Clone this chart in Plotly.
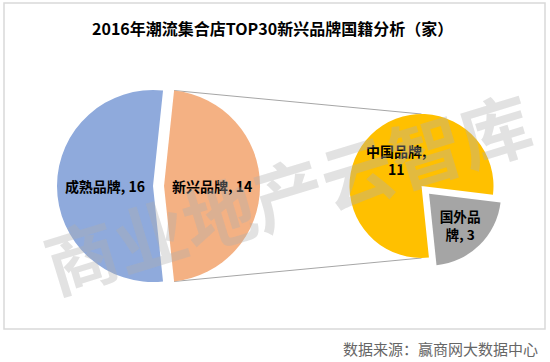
import math
import plotly.graph_objects as go

# ---------------- data ----------------
left_labels = ["新兴品牌", "成熟品牌"]
left_values = [14, 16]
right_labels = ["中国品牌", "国外品牌"]
right_values = [11, 3]
right_text = ["中国品牌,<br>11", "国外品<br>牌, 3"]
title_text = "2016年潮流集合店TOP30新兴品牌国籍分析（家）"
source_text = "数据来源：赢商网大数据中心"
watermark_text = "商业地产云智库"

# ---------------- layout geometry (pixels) ----------------
W, H = 550, 362
L_CX, L_CY, L_R, L_PULL = 153, 186, 96, 0.115
R_CX, R_CY, R_R, R_PULL = 421.5, 186, 72, 0.15
R_GRAY_MID = 135.5  # direction of the exploded slice (deg clockwise from top)

FONT = "Noto Sans CJK SC"


def fx(x):
    return x / W


def fy(y):
    return 1 - y / H


def domain(cx, cy, r, pull):
    half = r * (1 + pull)
    return dict(x=[fx(cx - half), fx(cx + half)], y=[fy(cy + half), fy(cy - half)])


left_rot = 90 - 180 * left_values[0] / sum(left_values)
right_rot = R_GRAY_MID + 180 * right_values[1] / sum(right_values)

fig = go.Figure()
fig.add_trace(go.Pie(
    labels=left_labels, values=left_values, sort=False, direction="clockwise",
    rotation=left_rot, pull=[L_PULL, 0],
    marker=dict(colors=["#F4B183", "#8FAADC"], line=dict(width=0)),
    texttemplate="%{label}, %{value}", textposition="inside",
    insidetextorientation="horizontal",
    textfont=dict(family=FONT, size=14, color="black", weight="bold"),
    domain=domain(L_CX, L_CY, L_R, L_PULL), hoverinfo="skip", showlegend=False,
))
fig.add_trace(go.Pie(
    labels=right_labels, values=right_values, sort=False, direction="clockwise",
    rotation=right_rot, pull=[0, R_PULL],
    marker=dict(colors=["#FFC000", "#A5A5A5"], line=dict(width=0)),
    text=right_text, texttemplate="%{text}", textposition="inside",
    insidetextorientation="horizontal",
    textfont=dict(family=FONT, size=14, color="black", weight="bold"),
    domain=domain(R_CX, R_CY, R_R, R_PULL), hoverinfo="skip", showlegend=False,
))

# connector (series) lines from exploded slice edges to the second pie
pull_px = L_PULL * L_R
a0 = math.radians(left_rot)
a1 = math.radians(left_rot + 360 * left_values[0] / sum(left_values))
top_start = (L_CX + L_R * math.sin(a0) + pull_px, L_CY - L_R * math.cos(a0))
bot_start = (L_CX + L_R * math.sin(a1) + pull_px, L_CY - L_R * math.cos(a1))
top_end = (R_CX, R_CY - R_R)
bot_end = (R_CX, R_CY + R_R)

shapes = [
    dict(type="rect", xref="paper", yref="paper", x0=fx(4), x1=fx(545), y0=fy(329), y1=fy(3),
         line=dict(color="#D9D9D9", width=1.5), layer="below"),
]
for s, e in [(top_start, top_end), (bot_start, bot_end)]:
    shapes.append(dict(type="line", xref="paper", yref="paper",
                       x0=fx(s[0]), y0=fy(s[1]), x1=fx(e[0]), y1=fy(e[1]),
                       line=dict(color="#A6A6A6", width=1), layer="below"))

annotations = [
    dict(text=title_text, xref="paper", yref="paper", x=fx(272), y=fy(28),
         xanchor="center", yanchor="middle",
         showarrow=False, font=dict(family=FONT, size=16, color="black", weight="bold")),
    dict(text=source_text, xref="paper", yref="paper", x=fx(441), y=fy(348),
         xanchor="center", yanchor="middle",
         showarrow=False, font=dict(family=FONT, size=15, color="#666666")),
    dict(text=watermark_text, xref="paper", yref="paper", x=fx(287), y=fy(190),
         xanchor="center", yanchor="middle",
         showarrow=False, textangle=-17,
         font=dict(family=FONT, size=72, color="rgba(175,175,175,0.36)", weight="bold")),
]

fig.update_layout(
    width=W, height=H, margin=dict(l=0, r=0, t=0, b=0),
    paper_bgcolor="white", plot_bgcolor="white",
    shapes=shapes, annotations=annotations, showlegend=False,
)

fig.write_html("out.html", config={"displayModeBar": False},
               post_script="document.body.style.margin='0px';")
